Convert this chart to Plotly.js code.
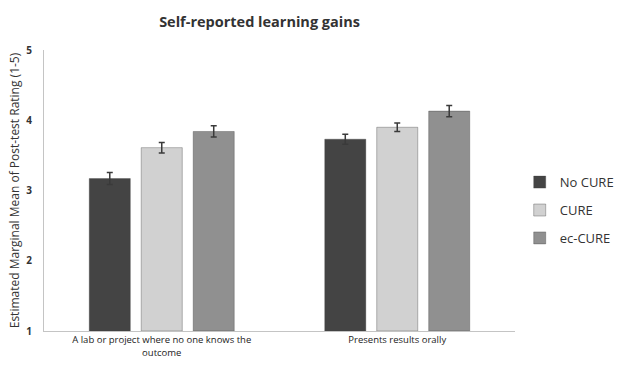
<!DOCTYPE html>
<html>
<head>
<meta charset="utf-8">
<script src="https://cdn.plot.ly/plotly-3.0.1.min.js"></script>
<style>
  html, body { margin: 0; padding: 0; background: #fff; }
  #chart { width: 618px; height: 365px; }
</style>
</head>
<body>
<div id="chart"></div>
<script>
// Outcome categories on the x axis
const categories = [
  "A lab or project where no one knows the<br>outcome",
  "Presents results orally"
];

// Estimated marginal means per condition
const noCure = [3.17, 3.73];
const cure = [3.61, 3.90];
const ecCure = [3.84, 4.13];

// Standard errors per condition
const noCureErr = [0.085, 0.07];
const cureErr = [0.075, 0.06];
const ecCureErr = [0.08, 0.08];

const yTicks = [1, 2, 3, 4, 5];

function barTrace(name, values, errors, color, group) {
  return {
    type: "bar",
    name: name,
    x: categories,
    y: values,
    base: 1,
    legendgroup: group,
    marker: { color: color, line: { color: "rgba(60,60,60,0.35)", width: 1 } },
    error_y: { type: "data", array: errors, visible: true, color: "#3a3a3a", thickness: 1.5, width: 3 }
  };
}

// Bars are drawn from the axis floor (1), so plot the height above it
const shift = arr => arr.map(v => v - 1);

const data = [
  barTrace("No CURE", shift(noCure), noCureErr, "#444444", "a"),
  barTrace("CURE", shift(cure), cureErr, "#d1d1d1", "b"),
  barTrace("ec-CURE", shift(ecCure), ecCureErr, "#909090", "c")
];

const layout = {
  width: 618,
  height: 365,
  margin: { l: 44, r: 103, t: 50, b: 34, autoexpand: false },
  paper_bgcolor: "#ffffff",
  plot_bgcolor: "#ffffff",
  barmode: "group",
  bargap: 0.338,
  bargroupgap: 0.21,
  font: { family: "Open Sans, sans-serif", color: "#333333" },
  title: {
    text: "<b>Self-reported learning gains</b>",
    font: { family: "Open Sans, sans-serif", size: 14.5, color: "#333333" },
    x: 0.42, xanchor: "center",
    y: 0.94, yanchor: "middle"
  },
  xaxis: {
    type: "category",
    showline: true,
    linecolor: "#c4c4c4",
    linewidth: 1,
    ticks: "",
    showgrid: false,
    tickfont: { family: "Open Sans, sans-serif", size: 9.5, color: "#222222" }
  },
  yaxis: {
    range: [1, 5],
    tickvals: yTicks,
    ticktext: yTicks.map(v => "<b>" + v + "</b>"),
    showline: true,
    linecolor: "#c4c4c4",
    linewidth: 1,
    showgrid: false,
    zeroline: false,
    ticks: "",
    ticklen: 0,
    ticklabelstandoff: 9,
    tickfont: { family: "Open Sans, sans-serif", size: 10, color: "#333333" },
    title: {
      text: "Estimated Marginal Mean of Post-test Rating (1-5)",
      font: { family: "Open Sans, sans-serif", size: 12, color: "#333333" },
      standoff: 4
    }
  },
  showlegend: true,
  legend: {
    x: 1.01, xanchor: "left",
    y: 0.43, yanchor: "middle",
    tracegroupgap: 8,
    font: { family: "Open Sans, sans-serif", size: 13, color: "#333333" },
    itemwidth: 30,
    bgcolor: "rgba(0,0,0,0)"
  }
};

Plotly.newPlot("chart", data, layout, { displayModeBar: false, staticPlot: true });
</script>
</body>
</html>
